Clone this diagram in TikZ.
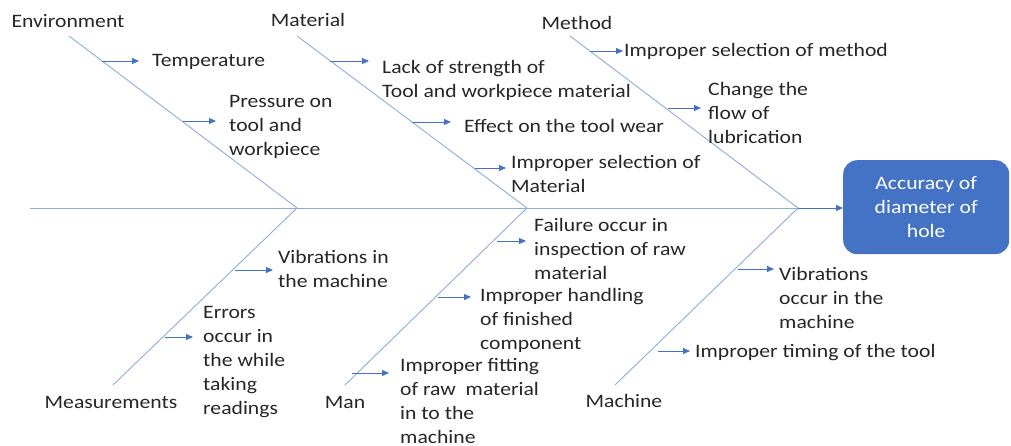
\documentclass[tikz,border=0pt]{standalone}
\usepackage{fontspec}
\setmainfont{Carlito}[FakeStretch=1.14]
\usetikzlibrary{arrows.meta}
\definecolor{bone}{HTML}{8FAADC}
\definecolor{accent}{HTML}{4472C4}
\begin{document}
\begin{tikzpicture}[x=1pt,y=-1pt,
  txt/.style={inner sep=0pt,anchor=west,align=left,text=black!85,
    font=\fontsize{19}{24}\selectfont},
  head/.style={inner sep=0pt,text=black!85,font=\fontsize{19}{24}\selectfont},
  bonel/.style={draw=bone,line width=0.9pt},
  cause/.style={draw=accent,line width=0.9pt,-{Triangle[length=7pt,width=6pt]}}]
\useasboundingbox (0,0) rectangle (1011,446);

% effect box
\node[fill=accent,rounded corners=14pt,minimum width=166pt,minimum height=94pt,
  inner sep=0pt,anchor=north west,text=white,align=center,
  font=\fontsize{19}{24}\selectfont] (effect) at (843,160)
  {Accuracy of\\diameter of\\hole};

% spine and junctions
\coordinate (tail) at (30,208);
\coordinate (j1) at (297,208);
\coordinate (j2) at (527,208);
\coordinate (j3) at (798,208);
\draw[bonel] (tail) -- (j3);
\draw[cause] (j3) -- (effect.west|-j3);

% category bones
\coordinate (envtop) at (69,36);
\coordinate (mattop) at (297,36);
\coordinate (mettop) at (570,36);
\coordinate (meabot) at (113,385);
\coordinate (manbot) at (345,385);
\coordinate (macbot) at (615,385);
\draw[bonel] (envtop) -- (j1);
\draw[bonel] (mattop) -- (j2);
\draw[bonel] (mettop) -- (j3);
\draw[bonel] (meabot) -- (j1);
\draw[bonel] (manbot) -- (j2);
\draw[bonel] (macbot) -- (j3);

% category labels
\node[head] (env) at (68,21) {Environment};
\node[head] (mat) at (308,20) {Material};
\node[head] (met) at (577,23) {Method};
\node[head] (mea) at (111,402) {Measurements};
\node[head] (man) at (345,402) {Man};
\node[head] (mac) at (624,401) {Machine};

% Environment causes
\coordinate (e1a) at (102,61);  \coordinate (e1b) at (139,61);
\coordinate (e2a) at (183,121); \coordinate (e2b) at (216,121);
\draw[cause] (e1a) -- (e1b);
\draw[cause] (e2a) -- (e2b);
\node[txt] (t1) at (152,62) {Temperature};
\node[txt] (t2) at (229,126.5) {Pressure on\\tool and\\workpiece};

% Material causes
\coordinate (m1a) at (330,61);  \coordinate (m1b) at (369,61);
\coordinate (m2a) at (412,122); \coordinate (m2b) at (451,122);
\coordinate (m3a) at (475,168); \coordinate (m3b) at (506,168);
\draw[cause] (m1a) -- (m1b);
\draw[cause] (m2a) -- (m2b);
\draw[cause] (m3a) -- (m3b);
\node[txt] (t3) at (382,80) {Lack of strength of\\Tool and workpiece material};
\node[txt] (t4) at (464,126) {Effect on the tool wear};
\node[txt] (t5) at (511,173.5) {Improper selection of\\Material};

% Method causes
\coordinate (h1a) at (590,51);  \coordinate (h1b) at (623,51);
\coordinate (h2a) at (668,108); \coordinate (h2b) at (701,108);
\draw[cause] (h1a) -- (h1b);
\draw[cause] (h2a) -- (h2b);
\node[txt] (t6) at (624,51) {Improper selection of method};
\node[txt] (t7) at (708,113) {Change the\\flow of\\lubrication};

% Measurements causes
\coordinate (s1a) at (235,270); \coordinate (s1b) at (273,270);
\coordinate (s2a) at (165,337); \coordinate (s2b) at (193,337);
\draw[cause] (s1a) -- (s1b);
\draw[cause] (s2a) -- (s2b);
\node[txt] (t8) at (278,269) {Vibrations in\\the machine};
\node[txt] (t9) at (203,362) {Errors\\occur in\\the while\\taking\\readings};

% Man causes
\coordinate (n1a) at (497,241); \coordinate (n1b) at (526,241);
\coordinate (n2a) at (438,297); \coordinate (n2b) at (471,297);
\coordinate (n3a) at (352,373); \coordinate (n3b) at (389,373);
\draw[cause] (n1a) -- (n1b);
\draw[cause] (n2a) -- (n2b);
\draw[cause] (n3a) -- (n3b);
\node[txt] (t10) at (534,249) {Failure occur in\\inspection of raw\\material};
\node[txt] (t11) at (480,320) {Improper handling\\of finished\\component};
\node[txt] (t12) at (400,401) {Improper fitting\\of raw\ \ material\\in to the\\machine};

% Machine causes
\coordinate (c1a) at (738,269); \coordinate (c1b) at (774,269);
\coordinate (c2a) at (658,351); \coordinate (c2b) at (690,351);
\draw[cause] (c1a) -- (c1b);
\draw[cause] (c2a) -- (c2b);
\node[txt] (t13) at (779,298) {Vibrations\\occur in the\\machine};
\node[txt] (t14) at (695,353) {Improper timing of the tool};
\end{tikzpicture}
\end{document}
